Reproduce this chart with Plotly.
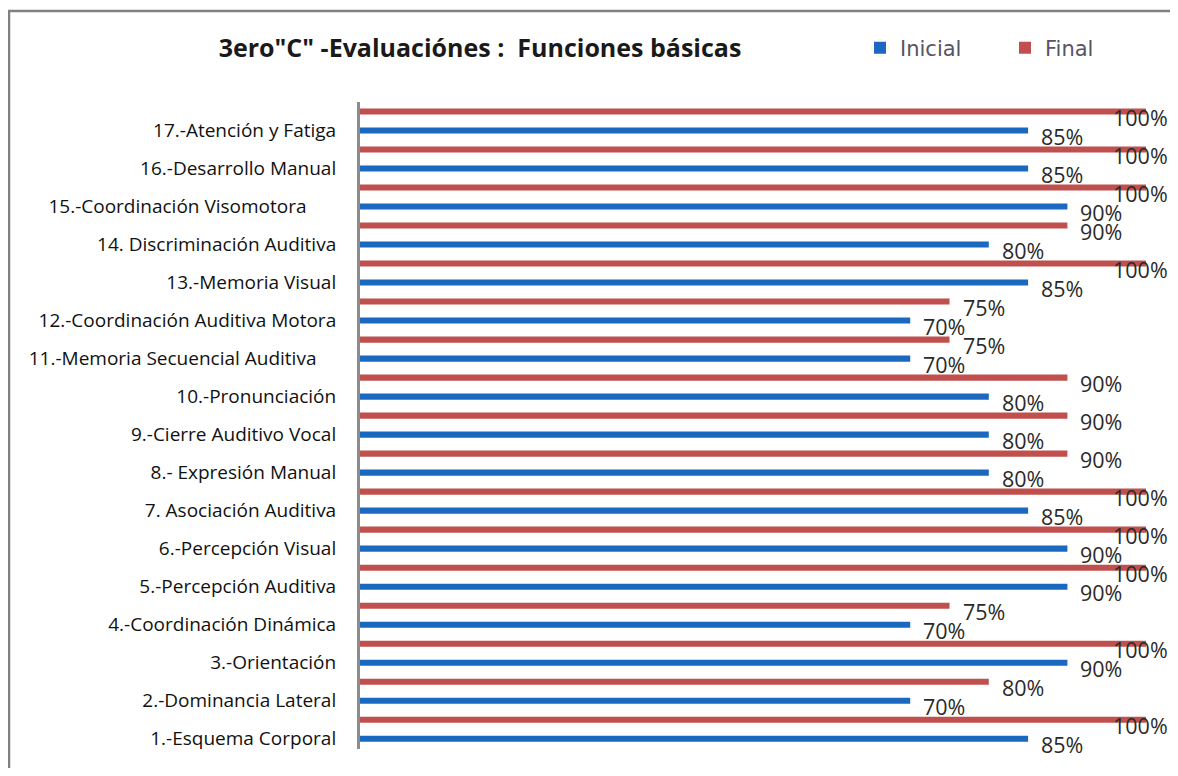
import plotly.graph_objects as go

categories = [
    "1.-Esquema Corporal",
    "2.-Dominancia Lateral",
    "3.-Orientación",
    "4.-Coordinación Dinámica",
    "5.-Percepción Auditiva",
    "6.-Percepción Visual",
    "7. Asociación Auditiva",
    "8.- Expresión Manual",
    "9.-Cierre Auditivo Vocal",
    "10.-Pronunciación",
    "11.-Memoria Secuencial Auditiva\u00a0\u00a0\u00a0\u00a0",
    "12.-Coordinación Auditiva Motora",
    "13.-Memoria Visual",
    "14. Discriminación Auditiva",
    "15.-Coordinación Visomotora\u00a0\u00a0\u00a0\u00a0\u00a0\u00a0",
    "16.-Desarrollo Manual",
    "17.-Atención y Fatiga",
]
inicial = [85, 70, 90, 70, 90, 90, 85, 80, 80, 80, 70, 70, 85, 80, 90, 85, 85]
final = [100, 80, 100, 75, 100, 100, 100, 90, 90, 90, 75, 75, 100, 90, 100, 100, 100]

BLUE = "#1A68BF"
RED = "#C0504D"

pos = list(range(len(categories)))
pos_final = [p + 0.5 for p in pos]

fig = go.Figure()
fig.add_trace(go.Bar(
    x=inicial, y=pos, orientation="h", name="Inicial",
    marker=dict(color=BLUE, line=dict(width=0)), width=0.16,
))
fig.add_trace(go.Bar(
    x=final, y=pos_final, orientation="h", name="Final",
    marker=dict(color=RED, line=dict(width=0)), width=0.16,
))

annotations = []
for ys, vals in ((pos, inicial), (pos_final, final)):
    for y, v in zip(ys, vals):
        annotations.append(dict(
            x=v, y=y, xref="x", yref="y", text=f"{v}%", showarrow=False,
            xanchor="left", yanchor="middle",
            xshift=(-35 if v >= 100 else 11), yshift=-6,
            font=dict(family="Open Sans", size=21.5, color="#2a2a2a"),
        ))

# page body adds an 8px offset; figure size and margins compensate
FW, FH = 1170, 760
L, T, W, H = 352, 94, 786, 647

fig.update_layout(
    width=FW, height=FH,
    paper_bgcolor="white", plot_bgcolor="white",
    margin=dict(l=L, r=FW - L - W, t=T, b=FH - T - H),
    barmode="overlay",
    title=dict(
        text='3ero"C" -Evaluaciónes :\u00a0 Funciones básicas',
        x=472 / FW, xanchor="center", y=1 - 40 / FH, yanchor="middle",
        font=dict(family="Open Sans", size=25, color="#1a1a1a", weight="bold"),
    ),
    legend=dict(
        orientation="h", xref="container", yref="container",
        x=852 / FW, xanchor="left", y=1 - 40 / FH, yanchor="middle",
        font=dict(family="DejaVu Sans", size=21, color="#555566"),
        entrywidth=100, entrywidthmode="pixels",
        bgcolor="rgba(0,0,0,0)",
    ),
    xaxis=dict(
        range=[0, 100], showgrid=False, showticklabels=False, zeroline=False,
        showline=False, ticks="",
    ),
    yaxis=dict(
        range=[-0.27, 16.75], tickmode="array", tickvals=pos, ticktext=categories,
        showgrid=False, zeroline=False, showline=True, linecolor="#8c8c8c",
        linewidth=3, ticks="", ticklabelstandoff=17,
        tickfont=dict(family="Open Sans", size=19, color="#111111"),
    ),
    annotations=annotations,
    shapes=[dict(
        type="rect", xref="paper", yref="paper",
        x0=(1 - L) / W, x1=(1200 - L) / W,
        y0=(T + H - 800) / H, y1=(T + H - 3) / H,
        line=dict(color="#808080", width=2.5), fillcolor="rgba(0,0,0,0)",
        layer="below",
    )],
)

fig.write_html("out.html")
